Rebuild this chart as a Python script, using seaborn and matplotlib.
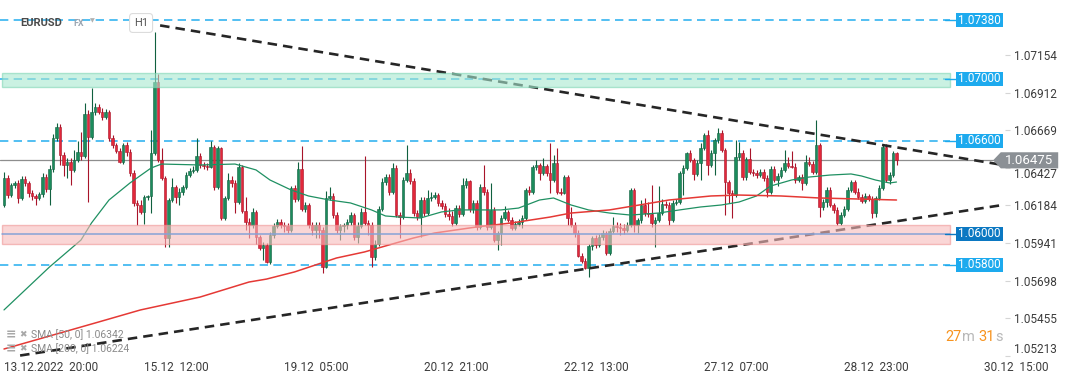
import numpy as np
import pandas as pd
import matplotlib
matplotlib.use("Agg")
import matplotlib.pyplot as plt
from matplotlib.patches import Rectangle, Polygon
import seaborn as sns

# ---------------- data (EURUSD, H1) ----------------
first_open = 1.06187
closes = [
    1.06361, 1.06251, 1.06316, 1.06329, 1.06232, 1.06354, 1.06329, 1.06264, 1.06245, 1.06232,
    1.06258, 1.06367, 1.06290, 1.06419, 1.06619, 1.06690, 1.06509, 1.06445, 1.06464, 1.06413,
    1.06477, 1.06529, 1.06503, 1.06774, 1.06625, 1.06787, 1.06819, 1.06787, 1.06754, 1.06787,
    1.06619, 1.06574, 1.06535, 1.06464, 1.06574, 1.06529, 1.06393, 1.06200, 1.06187, 1.06142,
    1.06238, 1.06245, 1.06522, 1.06980, 1.06477, 1.06361, 1.05974, 1.06219, 1.06303, 1.06238,
    1.06271, 1.06303, 1.06380, 1.06406, 1.06413, 1.06503, 1.06445, 1.06438, 1.06432, 1.06561,
    1.06303, 1.06554, 1.06103, 1.06232, 1.06348, 1.06329, 1.06206, 1.06432, 1.06148, 1.06077,
    1.06058, 1.06142, 1.05980, 1.05909, 1.05929, 1.05819, 1.05993, 1.06051, 1.06077, 1.06058,
    1.06051, 1.06026, 1.06296, 1.06225, 1.06419, 1.06161, 1.06187, 1.06058, 1.06026, 1.06058,
    1.06026, 1.05787, 1.06232, 1.06245, 1.06122, 1.06026, 1.06051, 1.06058, 1.06077, 1.06122,
    1.05980, 1.06051, 1.06142, 1.06071, 1.06058, 1.05851, 1.05935, 1.06161, 1.06335, 1.06367,
    1.06271, 1.06425, 1.06122, 1.06109, 1.06348, 1.06393, 1.06342, 1.06135, 1.06109, 1.06219,
    1.06135, 1.06232, 1.06238, 1.06251, 1.06200, 1.06180, 1.06129, 1.06116, 1.06071, 1.06167,
    1.06129, 1.06316, 1.06342, 1.06161, 1.06200, 1.06045, 1.06303, 1.06271, 1.06045, 1.06155,
    1.05961, 1.06006, 1.06103, 1.06142, 1.06090, 1.06038, 1.06064, 1.06077, 1.06103, 1.06284,
    1.06271, 1.06432, 1.06445, 1.06393, 1.06438, 1.06393, 1.06348, 1.06458, 1.06271, 1.06264,
    1.06367, 1.06103, 1.06058, 1.06006, 1.05858, 1.05826, 1.05780, 1.05922, 1.05974, 1.05929,
    1.05980, 1.06006, 1.05877, 1.06019, 1.06051, 1.06045, 1.06038, 1.06026, 1.06058, 1.06284,
    1.06058, 1.06090, 1.06187, 1.06135, 1.06129, 1.06071, 1.06090, 1.06135, 1.06193, 1.06187,
    1.06090, 1.06200, 1.06206, 1.06393, 1.06425, 1.06522, 1.06477, 1.06387, 1.06458, 1.06554,
    1.06638, 1.06445, 1.06522, 1.06606, 1.06651, 1.06542, 1.06335, 1.06264, 1.06251, 1.06496,
    1.06522, 1.06367, 1.06483, 1.06400, 1.06393, 1.06380, 1.06400, 1.06361, 1.06271, 1.06419,
    1.06348, 1.06374, 1.06413, 1.06458, 1.06438, 1.06432, 1.06348, 1.06367, 1.06329, 1.06464,
    1.06451, 1.06400, 1.06574, 1.06174, 1.06206, 1.06284, 1.06187, 1.06155, 1.06071, 1.06122,
    1.06161, 1.06284, 1.06335, 1.06271, 1.06238, 1.06213, 1.06245, 1.06225, 1.06135, 1.06232,
    1.06296, 1.06561, 1.06348, 1.06380, 1.06522, 1.06477,
]
highs = [
    1.06400, 1.06380, 1.06329, 1.06342, 1.06348, 1.06374, 1.06374, 1.06342, 1.06284, 1.06258,
    1.06271, 1.06393, 1.06387, 1.06445, 1.06645, 1.06716, 1.06709, 1.06529, 1.06490, 1.06490,
    1.06542, 1.06600, 1.06658, 1.06845, 1.06800, 1.06941, 1.06845, 1.06838, 1.06812, 1.06806,
    1.06800, 1.06638, 1.06587, 1.06554, 1.06587, 1.06593, 1.06548, 1.06413, 1.06219, 1.06219,
    1.06251, 1.06251, 1.06671, 1.07303, 1.07032, 1.06554, 1.06374, 1.06232, 1.06361, 1.06316,
    1.06296, 1.06316, 1.06400, 1.06425, 1.06438, 1.06619, 1.06522, 1.06464, 1.06458, 1.06600,
    1.06574, 1.06567, 1.06561, 1.06245, 1.06393, 1.06374, 1.06348, 1.06458, 1.06445, 1.06238,
    1.06103, 1.06167, 1.06155, 1.05993, 1.05948, 1.05942, 1.06013, 1.06071, 1.06096, 1.06096,
    1.06077, 1.06071, 1.06309, 1.06316, 1.06464, 1.06567, 1.06206, 1.06200, 1.06077, 1.06077,
    1.06077, 1.06045, 1.06277, 1.06303, 1.06264, 1.06142, 1.06064, 1.06071, 1.06096, 1.06142,
    1.06135, 1.06077, 1.06167, 1.06503, 1.06090, 1.06077, 1.05961, 1.06180, 1.06361, 1.06387,
    1.06387, 1.06458, 1.06445, 1.06142, 1.06367, 1.06574, 1.06419, 1.06361, 1.06155, 1.06238,
    1.06238, 1.06284, 1.06271, 1.06271, 1.06264, 1.06219, 1.06200, 1.06167, 1.06148, 1.06187,
    1.06187, 1.06361, 1.06361, 1.06348, 1.06219, 1.06219, 1.06322, 1.06445, 1.06290, 1.06329,
    1.06174, 1.06019, 1.06122, 1.06180, 1.06155, 1.06109, 1.06084, 1.06096, 1.06122, 1.06296,
    1.06309, 1.06445, 1.06477, 1.06458, 1.06490, 1.06451, 1.06587, 1.06509, 1.06554, 1.06296,
    1.06380, 1.06380, 1.06174, 1.06077, 1.06026, 1.05877, 1.05845, 1.05935, 1.05987, 1.05993,
    1.06000, 1.06026, 1.06019, 1.06038, 1.06109, 1.06077, 1.06071, 1.06064, 1.06077, 1.06296,
    1.06296, 1.06103, 1.06219, 1.06232, 1.06206, 1.06316, 1.06109, 1.06309, 1.06225, 1.06213,
    1.06206, 1.06219, 1.06225, 1.06406, 1.06445, 1.06529, 1.06542, 1.06490, 1.06477, 1.06587,
    1.06651, 1.06671, 1.06542, 1.06619, 1.06683, 1.06671, 1.06554, 1.06348, 1.06284, 1.06606,
    1.06593, 1.06542, 1.06496, 1.06554, 1.06419, 1.06413, 1.06419, 1.06419, 1.06380, 1.06438,
    1.06438, 1.06393, 1.06432, 1.06542, 1.06496, 1.06535, 1.06458, 1.06380, 1.06387, 1.06509,
    1.06496, 1.06471, 1.06735, 1.06587, 1.06225, 1.06303, 1.06303, 1.06200, 1.06174, 1.06142,
    1.06180, 1.06303, 1.06348, 1.06348, 1.06296, 1.06258, 1.06264, 1.06258, 1.06245, 1.06245,
    1.06316, 1.06574, 1.06580, 1.06400, 1.06535, 1.06529,
]
lows = [
    1.06174, 1.06232, 1.06238, 1.06296, 1.06200, 1.06219, 1.06309, 1.06238, 1.06219, 1.06187,
    1.06219, 1.06238, 1.06271, 1.06187, 1.06400, 1.06600, 1.06445, 1.06374, 1.06361, 1.06316,
    1.06400, 1.06464, 1.06477, 1.06490, 1.06206, 1.06612, 1.06767, 1.06774, 1.06735, 1.06741,
    1.06600, 1.06554, 1.06522, 1.06458, 1.06451, 1.06503, 1.06374, 1.06180, 1.06058, 1.06129,
    1.06064, 1.06219, 1.06135, 1.06509, 1.06464, 1.06348, 1.05916, 1.05916, 1.06206, 1.06200,
    1.06187, 1.06251, 1.06290, 1.06367, 1.06393, 1.06400, 1.06425, 1.06419, 1.06413, 1.06425,
    1.06284, 1.06290, 1.06090, 1.06090, 1.06219, 1.06303, 1.06135, 1.06193, 1.06135, 1.06026,
    1.05974, 1.06038, 1.05935, 1.05897, 1.05832, 1.05813, 1.05806, 1.05974, 1.06038, 1.06038,
    1.06013, 1.06006, 1.06013, 1.06206, 1.06213, 1.06148, 1.06142, 1.06038, 1.05993, 1.05974,
    1.05974, 1.05748, 1.05780, 1.06219, 1.06103, 1.06006, 1.05961, 1.06013, 1.06032, 1.06058,
    1.05961, 1.05942, 1.06038, 1.06058, 1.05993, 1.05787, 1.05832, 1.05922, 1.06148, 1.06316,
    1.06251, 1.06258, 1.06109, 1.05974, 1.06096, 1.06335, 1.06322, 1.06116, 1.06090, 1.05980,
    1.06116, 1.06122, 1.06213, 1.06225, 1.06180, 1.06161, 1.06109, 1.06090, 1.06051, 1.06058,
    1.06109, 1.06116, 1.06296, 1.06142, 1.06135, 1.06026, 1.06032, 1.06251, 1.06026, 1.06032,
    1.05948, 1.05897, 1.05929, 1.06090, 1.06077, 1.06026, 1.06026, 1.06051, 1.06038, 1.06090,
    1.06251, 1.06258, 1.06413, 1.06348, 1.06380, 1.06374, 1.06264, 1.06335, 1.06258, 1.06251,
    1.06258, 1.06058, 1.06045, 1.05980, 1.05851, 1.05813, 1.05774, 1.05722, 1.05897, 1.05909,
    1.05916, 1.05961, 1.05864, 1.05864, 1.06006, 1.06013, 1.05993, 1.06000, 1.06013, 1.06045,
    1.06013, 1.06006, 1.06071, 1.06116, 1.06109, 1.06045, 1.05916, 1.06077, 1.06122, 1.06167,
    1.06058, 1.06077, 1.06187, 1.06193, 1.06251, 1.06413, 1.06464, 1.06348, 1.06374, 1.06348,
    1.06542, 1.06380, 1.06432, 1.06380, 1.06587, 1.06529, 1.06122, 1.06200, 1.06103, 1.06238,
    1.06477, 1.06348, 1.06348, 1.06387, 1.06374, 1.06361, 1.06367, 1.06342, 1.06238, 1.06258,
    1.06335, 1.06309, 1.06361, 1.06400, 1.06425, 1.06425, 1.06329, 1.06335, 1.06284, 1.06316,
    1.06438, 1.06387, 1.06387, 1.06109, 1.06155, 1.06174, 1.06174, 1.06135, 1.06058, 1.06058,
    1.06109, 1.06148, 1.06271, 1.06258, 1.06225, 1.06200, 1.06200, 1.06213, 1.06103, 1.06109,
    1.06219, 1.06284, 1.06335, 1.06322, 1.06367, 1.06445,
]

# moving averages, sampled along the drawn curves (bar index, value)
sma50_idx = [0, 13, 22, 25, 30, 36, 42, 45, 56, 66, 72, 76, 82, 87, 93, 99, 105, 109, 113, 119,
             125, 130, 142, 147, 153, 157, 162, 167, 173, 179, 187, 193, 199, 205, 210, 215, 219,
             225, 230, 236, 242, 245, 249, 253, 255]
sma50_val = [1.05510, 1.05787, 1.05961, 1.06071, 1.06219, 1.06329, 1.06425, 1.06451, 1.06445,
             1.06451, 1.06413, 1.06348, 1.06284, 1.06245, 1.06219, 1.06200, 1.06155, 1.06116,
             1.06109, 1.06103, 1.06142, 1.06155, 1.06155, 1.06167, 1.06219, 1.06232, 1.06187,
             1.06155, 1.06135, 1.06122, 1.06135, 1.06155, 1.06174, 1.06187, 1.06206, 1.06245,
             1.06309, 1.06348, 1.06367, 1.06380, 1.06387, 1.06374, 1.06348, 1.06329, 1.06335]
sma200_idx = [0, 27, 39, 56, 70, 75, 83, 95, 103, 112, 117, 123, 135, 145, 156, 162, 173, 185,
              190, 202, 210, 222, 233, 245, 255]
sma200_val = [1.05258, 1.05432, 1.05510, 1.05593, 1.05690, 1.05709, 1.05755, 1.05845, 1.05884,
              1.05942, 1.05974, 1.06006, 1.06045, 1.06071, 1.06109, 1.06135, 1.06155, 1.06200,
              1.06219, 1.06245, 1.06251, 1.06245, 1.06232, 1.06225, 1.06219]

time_ticks = [0, 40, 80, 120, 160, 200, 240, 280]
time_labels = ["13.12.2022  20:00", "15.12  12:00", "19.12  05:00", "20.12  21:00",
               "22.12  13:00", "27.12  07:00", "28.12  23:00", "30.12  15:00"]
price_ticks = [1.05213, 1.05455, 1.05698, 1.05941, 1.06184, 1.06427, 1.06669, 1.06912, 1.07154]

dashed_levels = [1.07380, 1.07000, 1.06600, 1.05800]
solid_level = 1.06000
last_price = 1.06475
green_zone = [1.06950, 1.07040]
red_zone = [1.05935, 1.06055]
upper_trend_x = [44.6, 285.4]
upper_trend_y = [1.07345, 1.06445]
lower_trend_x = [4.6, 285.4]
lower_trend_y = [1.05216, 1.06187]
sma_legend = ["SMA [50, 0] 1.06342", "SMA [200, 0] 1.06224"]

# ---------------- style ----------------
sns.set_theme(style="white")
plt.rcParams["font.family"] = ["Roboto", "DejaVu Sans"]

GREEN, GREEN_E = "#1b8c5c", "#10603f"
RED, RED_E = "#e2283a", "#a8142a"
BLUE, BLUE_DARK = "#1daaee", "#0b78c2"

W, H = 1072, 382
fig = plt.figure(figsize=(W / 100, H / 100), dpi=100)
ax = fig.add_axes([0, (H - 358) / H, 1005 / W, 358 / H])
ax.set_xlim(-1.143, 286.0)
ax.set_ylim(1.05200, 1.07509)
for s in ax.spines.values():
    s.set_visible(False)

def fx(x):
    return x / W

def fy(y):
    return 1 - y / H

X_LINE_END = 270.3   # where horizontal levels stop
BOX_X0, BOX_X1 = 272.0, 285.4
BOX_H = 0.00087

# horizontal levels
for lvl in dashed_levels:
    ax.plot([-1.2, X_LINE_END], [lvl, lvl], color="#35b4f0", lw=1.2,
            linestyle=(0, (5.0, 3.2)), zorder=2)
ax.plot([-1.2, 282.6], [last_price, last_price], color="#8e8e8e", lw=0.9, zorder=2)

# candles
df = pd.DataFrame({"close": closes, "high": highs, "low": lows})
df["open"] = [first_open] + closes[:-1]
df["idx"] = np.arange(len(df))
up = (df["close"] >= df["open"]).to_numpy()
body_lo = df[["open", "close"]].min(axis=1)
body_hi = df[["open", "close"]].max(axis=1)
ax.vlines(df["idx"], np.minimum(df["low"], body_lo), np.maximum(df["high"], body_hi),
          colors=np.where(up, GREEN_E, RED_E), linewidth=0.8, zorder=3)
ax.bar(df["idx"], np.maximum(body_hi - body_lo, 0.00006), bottom=body_lo, width=0.72,
       color=np.where(up, GREEN, RED), edgecolor=np.where(up, GREEN_E, RED_E),
       linewidth=0.4, zorder=4)

# moving averages
sns.lineplot(x=sma50_idx, y=sma50_val, ax=ax, color="#1f9062", linewidth=0.9, zorder=5)
sns.lineplot(x=sma200_idx, y=sma200_val, ax=ax, color="#e53935", linewidth=1.1, zorder=5)

# trend lines
for tx, ty in [(upper_trend_x, upper_trend_y), (lower_trend_x, lower_trend_y)]:
    ax.plot(tx, ty, color="#262626", lw=1.9, linestyle=(0, (3.6, 2.3)),
            zorder=5.5, clip_on=False)

# zones
ax.add_patch(Rectangle((-0.57, green_zone[0]), X_LINE_END + 0.57, green_zone[1] - green_zone[0],
                       facecolor="#a8e8cf", edgecolor="#7fd6b4", lw=1.0, alpha=0.6, zorder=6))
ax.add_patch(Rectangle((-0.57, red_zone[0]), X_LINE_END + 0.57, red_zone[1] - red_zone[0],
                       facecolor="#f8bbbb", edgecolor="#ef9595", lw=1.0, alpha=0.6, zorder=6))
ax.plot([-0.57, X_LINE_END], [solid_level, solid_level], color="#86a2d6", lw=1.1, zorder=7)

# level labels on the right
for lvl, col in [(l, BLUE) for l in dashed_levels] + [(solid_level, BLUE_DARK)]:
    ax.plot([268.9, BOX_X0], [lvl, lvl], color=col, lw=1.0, zorder=8, clip_on=False)
    ax.add_patch(Rectangle((BOX_X0, lvl - BOX_H / 2), BOX_X1 - BOX_X0, BOX_H, facecolor=col,
                           edgecolor="none", zorder=8, clip_on=False))
    ax.text((BOX_X0 + BOX_X1) / 2, lvl, f"{lvl:.5f}", color="white", fontsize=8.5,
            ha="center", va="center", zorder=9, clip_on=False)

# last price tag
h2 = 0.00052
ax.add_patch(Polygon([(282.6, last_price), (284.8, last_price + h2), (301.2, last_price + h2),
                      (301.2, last_price - h2), (284.8, last_price - h2)],
                     closed=True, facecolor="#8b9095", edgecolor="none", zorder=10, clip_on=False))
ax.text(293.0, last_price, f"{last_price:.5f}", color="white", fontsize=9.5,
        ha="center", va="center", zorder=11, clip_on=False)

# axes ticks
ax.yaxis.tick_right()
ax.set_yticks(price_ticks)
ax.set_yticklabels([f"{v:.5f}" for v in price_ticks])
ax.tick_params(axis="y", length=3.5, width=0.8, color="#d5d5d5", pad=3,
               labelsize=8.5, labelcolor="#3c3c3c", right=True, left=False)
for lab in ax.get_yticklabels():
    if lab.get_text() == "1.05213":
        lab.set_va("bottom")
    if lab.get_text() == "1.06427":
        lab.set_va("top")
ax.set_xticks(time_ticks)
ax.set_xticklabels(time_labels, ha="left")
ax.tick_params(axis="x", length=0, pad=2.5, labelsize=8.5, labelcolor="#3c3c3c")
ax.set_xlabel("")
ax.set_ylabel("")

# header
fig.text(fx(20), fy(22.5), "EURUSD", fontsize=8, fontweight="bold", color="#4a4a4a",
         va="center", ha="left")
fig.text(fx(73), fy(23), "FX", fontsize=6.5, fontweight="bold", color="#9aa5b1", va="center")
fig.text(fx(90), fy(21), "\u25BC", fontsize=4.5, color="#b0b0b0", va="center",
         family="DejaVu Sans")
fig.text(fx(134), fy(23), "H1", fontsize=8, color="#555555", va="center", ha="left",
         bbox=dict(boxstyle="round,pad=0.4,rounding_size=0.3", facecolor="white",
                   edgecolor="#dcdcdc", lw=0.8), zorder=12)

# SMA legend
for i, txt in enumerate(sma_legend):
    yy = 335 + 14 * i
    fig.text(fx(6), fy(yy), "\u2261", fontsize=9, color="#a8a8a8", va="center",
             family="DejaVu Sans", fontweight="bold")
    fig.text(fx(19), fy(yy), "\u2716", fontsize=6.5, color="#a8a8a8", va="center",
             family="DejaVu Sans")
    fig.text(fx(31), fy(yy), txt, fontsize=7.5, color="#8a8a8a", va="center")

# countdown
for x0, txt, col in [(945, "27", "#f7931e"), (962, "m", "#b8b8b8"),
                     (978, "31", "#f7931e"), (995, "s", "#b8b8b8")]:
    fig.text(fx(x0), fy(337), txt, fontsize=10.5, color=col, va="center", ha="left")

fig.savefig("out.png", dpi=100)
